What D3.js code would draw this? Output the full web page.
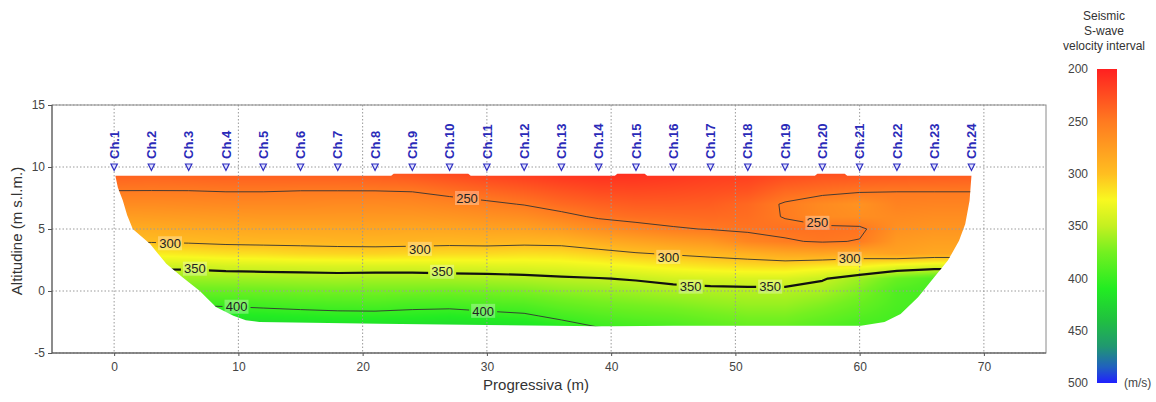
<!DOCTYPE html>
<html>
<head>
<meta charset="utf-8">
<script src="https://cdn.jsdelivr.net/npm/d3@7"></script>
<style>
  body { margin: 0; background: #fff; }
  svg { font-family: "Liberation Sans", Arial, sans-serif; }
</style>
</head>
<body>
<div id="chart"></div>
<script>
(function () {

  // Grid of S-wave velocity (m/s)
  const gridX = [-3, 0, 3, 6, 9, 12, 15, 18, 21, 24, 27, 30, 33, 36, 39, 42, 45, 48, 51, 54, 57, 60, 63, 66, 69, 72]
  const gridZ = [10, 9, 8, 7, 6, 5, 4, 3, 2, 1, 0, -1, -2, -3]
  // one profile per gridX column, top (z=10) to bottom (z=-3)
  const profiles = [
    [228, 240, 251, 263, 276, 288, 299, 323, 347, 364, 381, 398, 414, 430],
    [228, 240, 251, 263, 276, 288, 299, 323, 347, 364, 381, 398, 414, 430],
    [230, 241, 251, 263, 275, 287, 298, 321, 345, 364, 381, 398, 414, 430],
    [230, 240, 251, 262, 274, 285, 297, 318, 345, 363, 380, 397, 413, 429],
    [228, 239, 250, 261, 273, 284, 295, 315, 342, 362, 379, 396, 412, 428],
    [228, 239, 250, 261, 272, 283, 294, 314, 341, 361, 378, 394, 410, 426],
    [228, 239, 251, 261, 272, 283, 294, 311, 340, 360, 376, 392, 408, 424],
    [226, 239, 251, 262, 272, 283, 293, 310, 339, 359, 375, 391, 406, 422],
    [225, 238, 251, 262, 272, 282, 293, 309, 339, 360, 375, 390, 406, 422],
    [220, 235, 250, 261, 272, 283, 293, 311, 339, 360, 375, 393, 407, 423],
    [215, 230, 245, 258, 270, 282, 294, 312, 338, 359, 376, 393, 409, 425],
    [210, 225, 240, 254, 267, 280, 293, 312, 337, 358, 374, 390, 406, 422],
    [207, 221, 235, 249, 264, 279, 294, 314, 336, 356, 372, 388, 403, 419],
    [204, 216, 229, 241, 256, 274, 293, 313, 334, 353, 367, 381, 395, 410],
    [202, 213, 224, 236, 247, 265, 286, 308, 330, 351, 364, 376, 389, 401],
    [203, 213, 223, 233, 243, 258, 280, 302, 325, 348, 361, 373, 385, 397],
    [206, 215, 224, 233, 242, 252, 275, 298, 320, 343, 358, 370, 382, 394],
    [210, 218, 226, 234, 241, 249, 271, 294, 316, 341, 356, 366, 377, 388],
    [213, 220, 229, 240, 243, 247, 258, 290, 313, 340, 355, 363, 373, 383],
    [215, 228, 241, 252, 251, 245, 252, 284, 312, 340, 355, 363, 373, 383],
    [218, 232, 245, 262, 262, 245, 248, 282, 318, 348, 359, 370, 380, 390],
    [220, 234, 249, 268, 265, 246, 251, 286, 322, 362, 372, 380, 388, 396],
    [222, 236, 250, 256, 262, 267, 273, 279, 332, 380, 390, 392, 395, 398],
    [224, 237, 250, 257, 264, 270, 277, 284, 338, 390, 395, 396, 397, 398],
    [225, 238, 250, 257, 264, 270, 277, 284, 338, 390, 395, 396, 397, 398],
    [225, 238, 250, 257, 264, 270, 277, 284, 338, 390, 395, 396, 397, 398]
  ]

  // outline of the imaged section [progressiva, altitude]
  const sectionOutline = [
    [0.1, 9.3], [22.3, 9.3], [22.5, 9.45], [28.5, 9.45], [28.7, 9.3], [40.3, 9.3], [40.5, 9.45],
    [42.7, 9.45], [42.9, 9.3], [56.4, 9.3], [56.6, 9.45], [58.8, 9.45], [59.0, 9.3], [69.0, 9.3],
    [68.85, 7.3], [68.5, 5.4], [68.0, 4.05], [67.1, 2.45], [66.0, 1.1], [64.7, -0.5], [63.3, -1.85],
    [62.0, -2.5], [60.1, -2.8], [45, -2.8], [40, -2.85], [39, -2.85], [30, -2.75], [21.4, -2.65],
    [11.7, -2.5], [10.6, -2.35], [9.6, -2.0], [8.2, -1.3], [7.5, -0.6], [6.9, 0], [5.5, 1.1],
    [4.2, 2.2], [3.5, 3.05], [2.9, 3.8], [2.2, 4.4], [1.5, 5.0], [1.05, 6.1], [0.7, 7.3], [0.3, 8.35]
  ]

  const contourLevels = [250, 300, 350, 400]
  const labelValues = [250, 250, 300, 300, 300, 300, 350, 350, 350, 350, 400, 400]
  const labelX = [28.4, 56.6, 4.5, 24.6, 44.6, 59.2, 6.5, 26.4, 46.4, 52.8, 9.85, 29.7]
  const labelZ = [7.5, 5.5, 3.85, 3.4, 2.75, 2.6, 1.8, 1.55, 0.35, 0.35, -1.27, -1.6]

  const channelNames = ["Ch.1","Ch.2","Ch.3","Ch.4","Ch.5","Ch.6","Ch.7","Ch.8","Ch.9","Ch.10","Ch.11","Ch.12",
    "Ch.13","Ch.14","Ch.15","Ch.16","Ch.17","Ch.18","Ch.19","Ch.20","Ch.21","Ch.22","Ch.23","Ch.24"]
  const channelX = [0, 3, 6, 9, 12, 15, 18, 21, 24, 27, 30, 33, 36, 39, 42, 45, 48, 51, 54, 57, 60, 63, 66, 69]
  const channelZ = 10

  const xTicks = [0, 10, 20, 30, 40, 50, 60, 70]
  const yTicks = [-5, 0, 5, 10, 15]
  const legendTicks = [200, 250, 300, 350, 400, 450, 500]

  const velStops = [200, 250, 300, 325, 350, 375, 410, 440, 465, 485, 500]
  const velColors = ['#ff2020', '#ff7a20', '#ffbe20', '#f8f820', '#c4f020', '#74f020',
    '#22ec22', '#20c040', '#209870', '#2060c0', '#2020ff']

  // Scales
  const x = d3.scaleLinear().domain([-5, 75]).range([52, 1046])
  const y = d3.scaleLinear().domain([-5, 15]).range([353, 105])
  const color = d3.scaleLinear().domain(velStops).range(velColors).clamp(true)

  const svg = d3.select("#chart").append("svg")
    .attr("width", 1156)
    .attr("height", 402)
  const defs = svg.append("defs")

  const outline = d3.line().x(d => x(d[0])).y(d => y(d[1]))
  defs.append("clipPath").attr("id", "section")
    .append("path").attr("d", outline(sectionOutline) + "Z")

  // flat grid for d3.contours (row-major, top row first)
  const nx = gridX.length, nz = gridZ.length
  const values = []
  for (let j = 0; j < nz; j++) for (let i = 0; i < nx; i++) values.push(profiles[i][j])

  function valueAt(xd, zd) {
    let fi = (xd - gridX[0]) / (gridX[1] - gridX[0])
    let fj = (gridZ[0] - zd) / (gridZ[0] - gridZ[1])
    fi = Math.max(0, Math.min(nx - 1, fi))
    fj = Math.max(0, Math.min(nz - 1, fj))
    const i0 = Math.min(nx - 2, Math.floor(fi)), j0 = Math.min(nz - 2, Math.floor(fj))
    const tx = fi - i0, tz = fj - j0
    const a = values[j0 * nx + i0], b = values[j0 * nx + i0 + 1]
    const c = values[(j0 + 1) * nx + i0], d = values[(j0 + 1) * nx + i0 + 1]
    return (a * (1 - tx) + b * tx) * (1 - tz) + (c * (1 - tx) + d * tx) * tz
  }

  // Raster of the velocity field
  const x0 = x.range()[0], y0 = y.range()[1]
  const cw = Math.round(x.range()[1] - x0), ch = Math.round(y.range()[0] - y0)
  const canvas = document.createElement("canvas")
  canvas.width = cw; canvas.height = ch
  const ctx = canvas.getContext("2d")
  const img = ctx.createImageData(cw, ch)
  for (let py = 0; py < ch; py++) {
    const zd = y.invert(y0 + py + 0.5)
    for (let px = 0; px < cw; px++) {
      const c = d3.rgb(color(valueAt(x.invert(x0 + px + 0.5), zd)))
      const k = (py * cw + px) * 4
      img.data[k] = c.r; img.data[k + 1] = c.g; img.data[k + 2] = c.b; img.data[k + 3] = 255
    }
  }
  ctx.putImageData(img, 0, 0)
  svg.append("image")
    .attr("x", x0).attr("y", y0).attr("width", cw).attr("height", ch)
    .attr("href", canvas.toDataURL())
    .attr("clip-path", "url(#section)")

  // Grid (dotted, on top of the field)
  svg.append("g").selectAll("line.gx").data(xTicks).join("line")
    .attr("x1", d => x(d)).attr("x2", d => x(d))
    .attr("y1", y(15)).attr("y2", y(-5))
    .attr("stroke", "#9a9a9a").attr("stroke-width", 1).attr("stroke-dasharray", "1.5,2")
  svg.append("g").selectAll("line.gy").data(yTicks).join("line")
    .attr("x1", x(-5)).attr("x2", x(75))
    .attr("y1", d => y(d)).attr("y2", d => y(d))
    .attr("stroke", "#9a9a9a").attr("stroke-width", 1).attr("stroke-dasharray", "1.5,2")

  // Contour labels (mask the lines under them)
  const labels = labelValues.map((v, i) => ({ v: v, x: labelX[i], z: labelZ[i] }))
  const mask = defs.append("mask").attr("id", "lblmask").attr("maskUnits", "userSpaceOnUse")
    .attr("x", 0).attr("y", 0).attr("width", 1156).attr("height", 402)
  mask.append("rect").attr("width", 1156).attr("height", 402).attr("fill", "#fff")
  mask.selectAll("rect.hole").data(labels).join("rect")
    .attr("x", d => x(d.x) - 14).attr("y", d => y(d.z) - 8)
    .attr("width", 28).attr("height", 16).attr("fill", "#000")

  // Contours
  const contours = d3.contours().size([nx, nz]).thresholds(contourLevels)(values)
  const gx = d3.scaleLinear().domain([0.5, nx - 0.5]).range([gridX[0], gridX[nx - 1]])
  const gz = d3.scaleLinear().domain([0.5, nz - 0.5]).range([gridZ[0], gridZ[nz - 1]])
  const proj = d3.geoTransform({
    point: function (a, b) { this.stream.point(x(gx(a)), y(gz(b))) }
  })
  const contourPath = d3.geoPath(proj)
  svg.append("g")
    .attr("clip-path", "url(#section)")
    .append("g")
    .attr("mask", "url(#lblmask)")
    .selectAll("path").data(contours).join("path")
    .attr("d", contourPath)
    .attr("fill", "none")
    .attr("stroke", d => d.value === 350 ? "#111" : "#333")
    .attr("stroke-width", d => d.value === 350 ? 2.2 : 0.9)
    .attr("stroke-linejoin", "round")

  const lbl = svg.append("g").selectAll("g").data(labels).join("g")
    .attr("transform", d => "translate(" + x(d.x) + "," + y(d.z) + ")")
  lbl.append("rect")
    .attr("x", -12).attr("y", -7).attr("width", 24).attr("height", 14)
    .attr("fill", "#fff").attr("opacity", 0.3)
  lbl.append("text")
    .attr("text-anchor", "middle").attr("dy", "0.36em")
    .attr("font-size", 13).attr("fill", "#222")
    .text(d => d.v)

  // Frame and axes
  svg.append("rect")
    .attr("x", x(-5)).attr("y", y(15)).attr("width", x(75) - x(-5)).attr("height", y(-5) - y(15))
    .attr("fill", "none").attr("stroke", "#8a8a8a").attr("stroke-width", 1)
  svg.append("line").attr("x1", x(-5)).attr("x2", x(-5)).attr("y1", y(15)).attr("y2", y(-5))
    .attr("stroke", "#555")
  svg.append("line").attr("x1", x(-5)).attr("x2", x(75)).attr("y1", y(-5)).attr("y2", y(-5))
    .attr("stroke", "#555")

  const xAxis = d3.axisBottom(x).tickValues(xTicks).tickSize(3).tickPadding(6).tickFormat(d => String(d))
  svg.append("g").attr("transform", "translate(0," + y(-5) + ")").call(xAxis)
    .call(g => g.select(".domain").remove())
    .call(g => g.selectAll("line").attr("stroke", "#555"))
    .call(g => g.selectAll("text").attr("font-size", 12).attr("fill", "#444").attr("font-family", null))

  const yAxis = d3.axisLeft(y).tickValues(yTicks).tickSize(4).tickPadding(3).tickFormat(d => String(d))
  svg.append("g").attr("transform", "translate(" + x(-5) + ",0)").call(yAxis)
    .call(g => g.select(".domain").remove())
    .call(g => g.selectAll("line").attr("stroke", "#555"))
    .call(g => g.selectAll("text").attr("font-size", 12).attr("fill", "#444").attr("font-family", null))

  svg.append("text")
    .attr("x", 536).attr("y", 390)
    .attr("text-anchor", "middle").attr("font-size", 15).attr("fill", "#333")
    .text("Progressiva (m)")
  svg.append("text")
    .attr("transform", "translate(22,231) rotate(-90)")
    .attr("text-anchor", "middle").attr("font-size", 15).attr("fill", "#333")
    .text("Altitudine (m s.l.m.)")

  // Geophone channels
  const chans = svg.append("g").selectAll("g").data(channelNames).join("g")
    .attr("transform", (d, i) => "translate(" + x(channelX[i]) + "," + y(channelZ) + ")")
  chans.append("path")
    .attr("d", "M-3.2,-3L3.2,-3L0,3.4Z")
    .attr("fill", "#dfe0ff").attr("stroke", "#2f2fc0").attr("stroke-width", 1.2)
  chans.append("text")
    .attr("transform", "translate(0,-8) rotate(-90)")
    .attr("dy", "0.36em")
    .attr("font-size", 13).attr("font-weight", "bold").attr("fill", "#2a2ab8")
    .text(d => d)

  // Colour legend
  const grad = defs.append("linearGradient").attr("id", "velgrad")
    .attr("x1", 0).attr("x2", 0).attr("y1", 0).attr("y2", 1)
  grad.selectAll("stop").data(velStops).join("stop")
    .attr("offset", d => (d - 200) / 300)
    .attr("stop-color", (d, i) => velColors[i])
  const ly = d3.scaleLinear().domain([200, 500]).range([69, 383])
  svg.append("rect")
    .attr("x", 1097).attr("y", ly(200)).attr("width", 20).attr("height", ly(500) - ly(200))
    .attr("fill", "url(#velgrad)")
  svg.append("g").selectAll("text").data(legendTicks).join("text")
    .attr("x", 1088).attr("y", d => ly(d)).attr("dy", "0.36em")
    .attr("text-anchor", "end").attr("font-size", 12).attr("fill", "#444")
    .text(d => d)
  svg.append("text").attr("x", 1124).attr("y", ly(500)).attr("dy", "0.36em")
    .attr("font-size", 12).attr("fill", "#444").text("(m/s)")
  const title = ["Seismic", "S-wave", "velocity interval"]
  svg.append("g").selectAll("text").data(title).join("text")
    .attr("x", 1104).attr("y", (d, i) => 20 + i * 15)
    .attr("text-anchor", "middle").attr("font-size", 12).attr("fill", "#333")
    .text(d => d)

})();
</script>
</body>
</html>
